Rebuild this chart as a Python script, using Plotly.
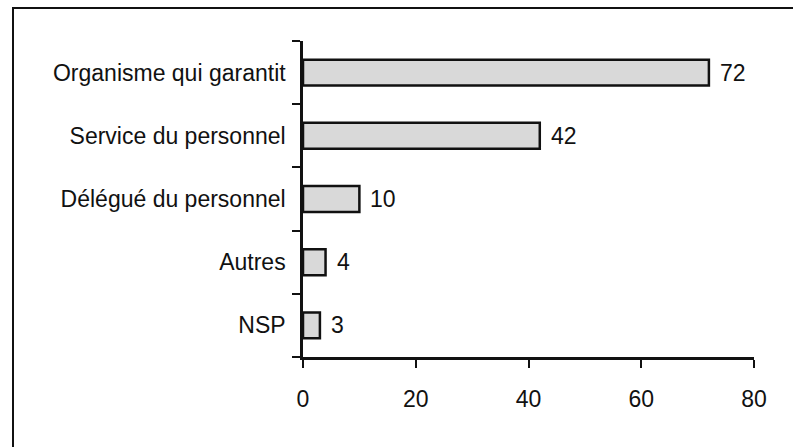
import plotly.graph_objects as go

categories = ["Organisme qui garantit", "Service du personnel", "Délégué du personnel", "Autres", "NSP"]
values = [72, 42, 10, 4, 3]
x_ticks = [0, 20, 40, 60, 80]

W, H = 793, 447
L, R, T, B = 303, 39, 41, 90
pw, ph = W - L - R, H - T - B

def px_to_paper_x(px):
    return (px - L) / pw

def py_to_paper_y(py):
    return (H - B - py) / ph

font = dict(family="Liberation Sans, Arial, sans-serif", size=23, color="#111111")

fig = go.Figure()
fig.add_trace(go.Bar(
    x=values, y=categories, orientation="h",
    width=0.41,
    marker=dict(color="#d9d9d9", line=dict(color="#111111", width=2.5)),
    hoverinfo="skip",
))

for c, v in zip(categories, values):
    fig.add_annotation(x=v, y=c, text=str(v), showarrow=False, xanchor="left",
                       xshift=9, font=font)

# outer frame (left + top edges visible)
fig.add_shape(type="rect", xref="paper", yref="paper",
              x0=px_to_paper_x(13), x1=px_to_paper_x(900),
              y0=py_to_paper_y(600), y1=py_to_paper_y(8),
              line=dict(color="#111111", width=2), fillcolor="rgba(0,0,0,0)", layer="below")

fig.update_layout(
    width=W, height=H,
    margin=dict(l=L, r=R, t=T, b=B, pad=0),
    paper_bgcolor="white", plot_bgcolor="white",
    showlegend=False,
    font=font,
    xaxis=dict(range=[0, 80], tickvals=x_ticks, ticks="outside", ticklen=8, tickwidth=2,
               tickcolor="#111111", showline=True, linecolor="#111111", linewidth=2.5,
               showgrid=False, zeroline=False, tickfont=font, fixedrange=True,
               ticklabelstandoff=12, automargin=False),
    yaxis=dict(categoryorder="array", categoryarray=categories[::-1],
               tickson="boundaries", ticks="outside", ticklen=8, tickwidth=2,
               tickcolor="#111111", showline=True, linecolor="#111111", linewidth=2.5,
               showgrid=False, zeroline=False, tickfont=font, fixedrange=True,
               ticklabelstandoff=10, automargin=False),
)

fig.write_html("out.html", config={"displayModeBar": False},
               post_script="document.body.style.margin='0';")
